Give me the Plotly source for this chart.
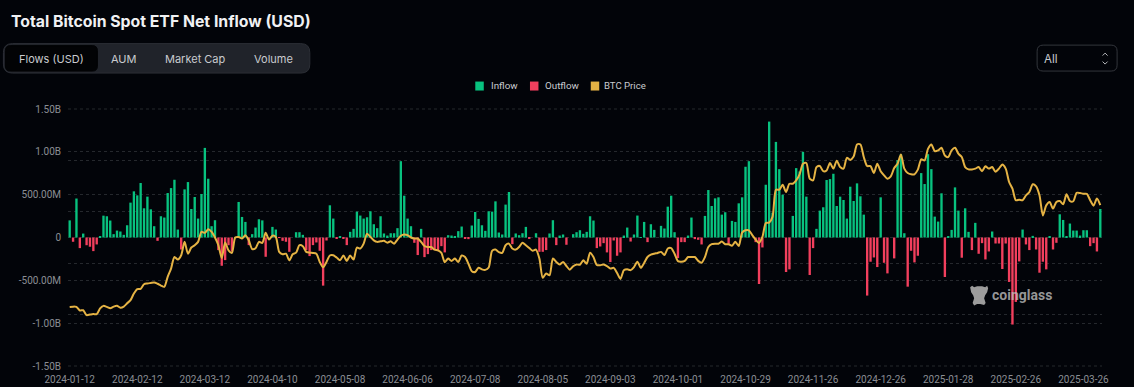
import pandas as pd
import plotly.graph_objects as go

HOLIDAYS = ["2024-01-15","2024-02-19","2024-03-29","2024-05-27","2024-06-19","2024-07-04","2024-09-02",
            "2024-11-28","2024-12-25","2025-01-01","2025-01-09","2025-01-20","2025-02-17"]
dates = [d.strftime("%Y-%m-%d") for d in pd.bdate_range("2024-01-12", "2025-04-02") if d.strftime("%Y-%m-%d") not in HOLIDAYS]
tick_dates = dates[:301:20]

# Net flows, million USD
flows_m = [
200,-50,455,-124,46,-90,-108,-159,-81,15,
255,248,198,39,81,70,31,143,407,539,
492,636,341,477,329,132,-39,248,233,519,
577,674,93,-140,562,647,333,473,221,508,
1046,686,132,202,-147,-330,-264,-90,-165,4,
415,240,182,-89,39,116,213,200,-225,0,
124,93,-5,-39,-50,-167,0,62,62,31,
-147,-217,-89,-58,-155,-562,-35,376,221,-15,
12,-8,-89,66,101,302,256,221,236,306,
155,109,248,47,23,50,50,109,891,488,
221,132,-62,-205,101,-229,-194,-147,-147,-159,
-101,-174,27,23,12,74,128,-12,-19,140,
298,217,143,78,306,302,422,58,35,384,
531,-78,47,27,50,124,-15,0,50,-167,
-167,-147,47,202,-89,23,35,-85,0,39,
62,85,43,66,248,198,-124,-105,-66,-174,
-287,-35,-213,-174,23,116,-47,35,256,4,
182,-54,155,89,0,136,105,360,488,62,
-240,-54,-54,23,233,-19,-27,-81,252,554,
368,457,469,267,295,-74,194,182,399,469,
826,891,0,-54,-543,-116,616,1353,290,1116,
798,500,-403,-372,252,810,771,1000,477,-438,
-124,101,314,353,671,682,744,368,477,438,
221,593,426,632,481,267,-678,-283,-233,-345,
469,-295,-419,0,-244,903,973,50,-574,-155,
-291,-213,752,624,973,798,244,186,516,-461,
16,89,585,314,-236,341,66,-147,171,-190,
-66,-256,-163,70,-70,-70,-368,-70,-519,-1016,
-752,-279,93,-81,-147,19,-140,-411,-283,-372,
12,-140,-62,271,205,12,163,81,81,23,
85,85,-101,-66,-163,333,
]

# BTC price, thousand USD
btc_price_k = [
43.0,43.1,43.0,41.6,41.7,39.8,40.0,40.2,40.2,42.4,
43.4,43.0,42.5,43.1,43.4,42.7,43.1,44.4,45.6,48.2,
49.9,50.0,51.8,52.1,52.3,52.5,52.0,51.3,50.8,54.7,
57.9,62.4,61.4,63.1,68.3,63.7,66.1,67.0,68.3,72.2,
71.8,73.2,72.2,70.0,67.0,62.0,68.1,65.0,64.0,70.0,
70.2,69.6,70.9,68.9,65.5,65.8,68.3,67.9,71.8,69.2,
70.7,70.2,64.4,63.5,63.7,61.1,63.5,64.1,67.0,66.6,
64.4,64.1,64.0,63.7,60.5,58.4,60.5,63.0,63.1,62.2,
61.1,63.0,60.9,63.0,61.4,66.1,65.7,67.6,71.5,70.2,
68.9,68.3,68.5,68.7,68.0,68.5,67.6,69.2,70.7,71.2,
70.9,70.0,69.6,69.6,68.3,66.7,66.3,66.3,65.3,65.0,
64.0,60.4,61.8,60.9,61.8,60.5,63.0,62.4,59.8,56.9,
56.6,58.2,57.6,57.4,58.3,64.8,65.3,64.3,64.0,67.0,
67.6,65.7,65.3,66.3,68.0,67.0,65.9,64.8,65.3,61.8,
54.3,56.0,55.3,61.8,60.5,59.5,60.5,58.9,57.5,58.8,
59.5,59.4,61.1,59.8,64.1,62.4,59.3,59.2,59.5,58.9,
57.9,58.2,56.2,53.9,57.3,57.6,57.3,58.5,60.6,58.2,
60.1,62.4,63.3,63.7,64.0,64.4,63.2,65.7,65.9,63.7,
60.8,60.6,60.9,62.4,62.4,62.4,60.9,60.2,62.4,66.3,
67.4,67.6,67.6,68.4,67.4,67.4,66.8,68.3,66.7,71.9,
72.8,72.8,70.9,69.2,67.9,70.2,75.6,75.8,78.0,88.6,
88.6,90.5,87.7,90.9,90.9,92.2,94.6,98.7,99.0,92.9,
92.2,97.4,97.8,95.8,96.1,99.0,96.8,99.9,97.4,96.8,
101.0,100.2,101.5,106.2,106.2,101.3,97.8,97.8,95.1,98.7,
95.8,94.2,92.9,93.8,97.0,98.7,102.3,96.8,95.1,94.6,
94.6,96.4,100.4,100.0,104.5,106.2,103.6,103.9,104.9,101.9,
101.3,103.9,104.9,102.6,101.3,97.4,96.5,96.5,96.8,97.4,
95.8,97.7,96.8,97.4,95.6,96.8,98.4,96.8,91.6,89.0,
84.5,84.7,84.5,86.4,87.7,90.7,89.9,86.4,78.6,82.5,
83.8,81.2,83.8,84.2,82.9,86.8,84.2,84.1,87.4,87.3,
87.0,87.0,84.5,82.4,85.2,82.6,
]

y_ticks_m = [-1500, -1000, -500, 0, 500, 1000, 1500]
y_labels = ["-1.50B", "-1.00B", "-500.00M", "0", "500.00M", "1.00B", "1.50B"]

BG = "#020409"; GREEN = "#08C27F"; RED = "#F23F5D"; GOLD = "#E5B344"
GRID = "#25282D"; TICK = "#8B8E94"; FONT = "Roboto, sans-serif"
DASH = "3px,3px"

W, H = 1134, 387
L, R, T, B = 67.6, 1101.9, 108.5, 366.0
px = lambda x: (x - L) / (R - L)
py = lambda y: (B - y) / (B - T)


def rrect(x0, y0, x1, y1, r, fill, line=None):
    p = (f"M {px(x0+r)} {py(y0)} L {px(x1-r)} {py(y0)} Q {px(x1)} {py(y0)} {px(x1)} {py(y0+r)} "
         f"L {px(x1)} {py(y1-r)} Q {px(x1)} {py(y1)} {px(x1-r)} {py(y1)} L {px(x0+r)} {py(y1)} "
         f"Q {px(x0)} {py(y1)} {px(x0)} {py(y1-r)} L {px(x0)} {py(y0+r)} Q {px(x0)} {py(y0)} {px(x0+r)} {py(y0)} Z")
    return dict(type="path", xref="paper", yref="paper", path=p, fillcolor=fill,
                line=dict(color=line or fill, width=1), layer="below")


def poly(points, fill=None, line=None, width=1):
    p = "M " + " L ".join(f"{px(a)} {py(b)}" for a, b in points)
    if fill:
        p += " Z"
    return dict(type="path", xref="paper", yref="paper", path=p,
                fillcolor=fill or "rgba(0,0,0,0)", line=dict(color=line or fill, width=width if line else 0))


def label(text, x, y, size, color, anchor="left", family="Inter, sans-serif"):
    return dict(text=text, xref="paper", yref="paper", x=px(x), y=py(y), xanchor=anchor, yanchor="middle",
                showarrow=False, font=dict(size=size, color=color, family=family))


def edge_grid(y):
    return dict(type="line", xref="paper", yref="paper", x0=0, x1=1, y0=y, y1=y, layer="below",
                line=dict(color=GRID, width=1, dash=DASH))


shapes = [
    edge_grid(0), edge_grid(1),
    rrect(3, 43, 309.5, 72.5, 9, "#20232A", "#2C2F36"),
    rrect(5, 45, 97, 70.5, 5, "#020305"),
    rrect(1037, 44.5, 1117, 70.5, 6, BG, "#33363C"),
    poly([(1102.5, 55), (1105, 52.5), (1107.5, 55)], line="#B5B7BB"),
    poly([(1102.5, 61), (1105, 63.5), (1107.5, 61)], line="#B5B7BB"),
    dict(type="rect", xref="paper", yref="paper", x0=px(475), x1=px(483.5), y0=py(81), y1=py(90), fillcolor=GREEN, line_width=0),
    dict(type="rect", xref="paper", yref="paper", x0=px(529.7), x1=px(538.2), y0=py(81), y1=py(90), fillcolor=RED, line_width=0),
    dict(type="rect", xref="paper", yref="paper", x0=px(590.5), x1=px(599), y0=py(81), y1=py(90), fillcolor=GOLD, line_width=0),
    poly([(970, 287), (972, 285.5), (974, 287), (977, 286), (982, 286), (985, 287), (987, 285.5), (988, 288),
          (987, 292), (985, 295), (984, 298), (985.5, 303), (984, 305), (980, 304), (977, 304), (974, 305.5),
          (972.5, 303), (974, 298), (973, 295), (971, 292)],
         fill="#9C9C9C"),
]

annotations = [
    label("<b>Total Bitcoin Spot ETF Net Inflow (USD)</b>", 8.8, 21, 15.8, "#F0F1F3"),
    label("Flows (USD)", 51, 58, 11, "#C9CBCF", "center"),
    label("AUM", 124, 58, 11, "#C9CBCF", "center"),
    label("Market Cap", 195, 58, 11, "#C9CBCF", "center"),
    label("Volume", 273, 58, 11, "#C9CBCF", "center"),
    label("All", 1042, 58, 11.5, "#C9CBCF"),
    label("Inflow", 488.5, 85, 9.8, "#C9CBCF", family=FONT),
    label("Outflow", 543, 85, 9.8, "#C9CBCF", family=FONT),
    label("BTC Price", 601.5, 85, 9.6, "#C9CBCF", family=FONT),
    label("<b>coinglass</b>", 990, 295, 14, "rgba(190,190,190,0.8)", family=FONT),
]

fig = go.Figure()
fig.add_bar(x=dates, y=[v * 1e6 if v > 0 else None for v in flows_m], name="Inflow", marker=dict(color=GREEN, line_width=0), width=0.7)
fig.add_bar(x=dates, y=[v * 1e6 if v < 0 else None for v in flows_m], name="Outflow", marker=dict(color=RED, line_width=0), width=0.7)
fig.add_scatter(x=dates, y=[v * 1e3 for v in btc_price_k], name="BTC Price", yaxis="y2", mode="lines",
                line=dict(color=GOLD, width=2, shape="spline", smoothing=0.7))

fig.update_layout(
    width=W, height=H, paper_bgcolor=BG, plot_bgcolor=BG, showlegend=False, barmode="overlay",
    margin=dict(l=L, r=W - R, t=T, b=H - B, pad=0),
    font=dict(family=FONT, color=TICK, size=10),
    shapes=shapes, annotations=annotations,
    xaxis=dict(type="category", categoryorder="array", categoryarray=dates, range=[-0.5, len(dates) - 0.5],
               tickmode="array", tickvals=tick_dates, ticktext=tick_dates, showgrid=False, zeroline=False,
               ticks="", tickangle=0, tickfont=dict(size=10, color=TICK), showline=False, automargin=False,
               ticklabelstandoff=6),
    yaxis=dict(range=[-1.5e9, 1.5e9], tickmode="array", tickvals=[v * 1e6 for v in y_ticks_m], ticktext=y_labels,
               showgrid=True, gridcolor=GRID, griddash=DASH, gridwidth=1, zeroline=False, ticks="",
               ticklabelstandoff=6, tickfont=dict(size=10, color=TICK), automargin=False),
    yaxis2=dict(overlaying="y", side="right", range=[20000, 120000], dtick=20000, showticklabels=False,
                showgrid=True, gridcolor=GRID, griddash=DASH, gridwidth=1, zeroline=False, automargin=False),
    hovermode="x unified",
)

fig.write_html("out.html", config={"displayModeBar": False},
               post_script="document.body.style.margin='0';document.body.style.background='%s';document.documentElement.style.overflow='hidden';" % BG)
